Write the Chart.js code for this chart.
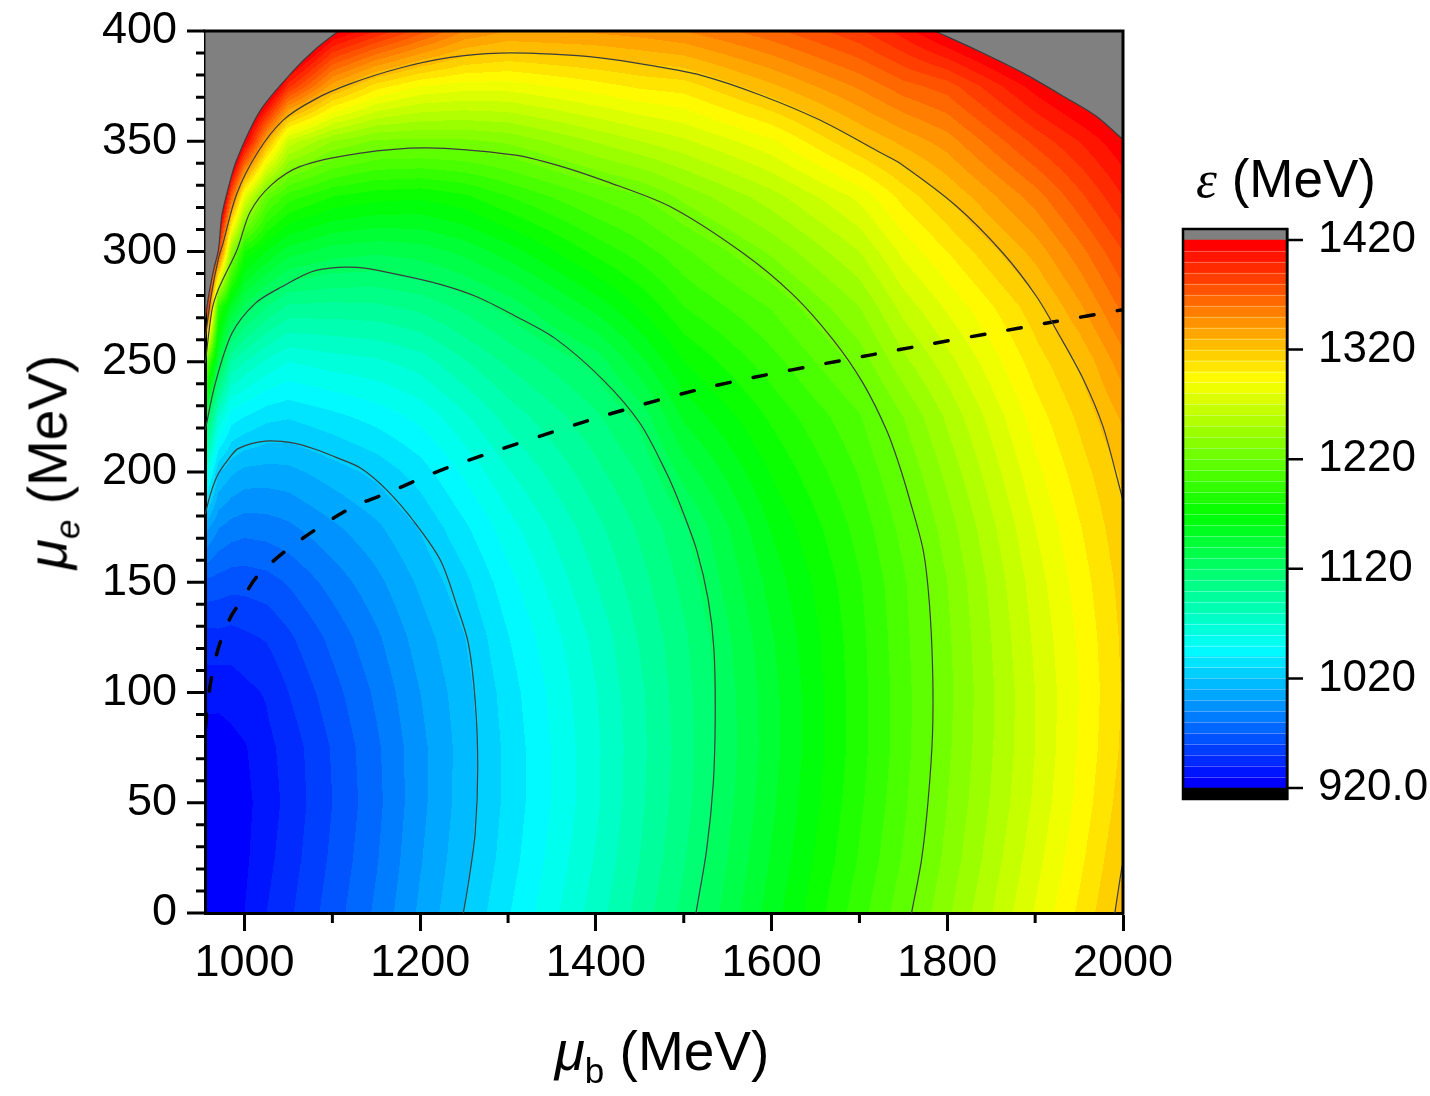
<!DOCTYPE html>
<html>
<head>
<meta charset="utf-8">
<script src="https://cdn.jsdelivr.net/npm/chart.js@4.4.1/dist/chart.umd.min.js"></script>
<style>
  html, body { margin: 0; padding: 0; background: #fff; }
  #wrap { position: relative; width: 1430px; height: 1096px; overflow: hidden;
          font-family: 'Liberation Sans', Arial, sans-serif; color: #000; }
  #main { position: absolute; left: 0; top: 0; }
  #bar { position: absolute; left: 1150px; top: 200px; }
  .title { position: absolute; white-space: nowrap; font-size: 55px; line-height: 1; }
  .title i { font-style: italic; }
  .title sub { font-size: 35px; vertical-align: -13px; line-height: 0; }
  #xTitle { left: 662px; top: 1024px; transform: translateX(-50%); }
  #yTitle { left: 48px; top: 462px; transform: translate(-50%, -50%) rotate(-90deg); }
  #cTitle { left: 1286px; top: 152px; font-size: 53px; transform: translateX(-50%); }
  #cTitle i { font-family: 'Liberation Serif', 'DejaVu Serif', serif; }
</style>
</head>
<body>
<div id="wrap">
  <canvas id="main" width="1430" height="1096"></canvas>
  <canvas id="bar" width="280" height="630"></canvas>
  <div class="title" id="xTitle"><i>μ</i><sub>b</sub> (MeV)</div>
  <div class="title" id="yTitle"><i>μ</i><sub><i>e</i></sub> (MeV)</div>
  <div class="title" id="cTitle"><i>ε</i> (MeV)</div>
</div>
<script>
// axes of the sampled field (MeV)
const muB = [955, 970, 985, 1000, 1025, 1050, 1100, 1150, 1200, 1250, 1300, 1400, 1450, 1500, 1600, 1700, 1750, 1800, 1900, 1950, 2000];
const muE = [0, 25, 50, 75, 100, 125, 150, 175, 200, 225, 250, 275, 300, 325, 350, 375, 400];

// energy density, one column per muB value, muE = 0 -> 400
// (values above 1420 belong to the grey "out of range" area)
const eps = [
  [923, 921, 921, 924, 934, 946, 968, 1005, 1070, 1140, 1230, 1450, 1500, 1500, 1500, 1500, 1500],
  [925, 923, 922, 925, 933, 947, 966, 991, 1021, 1070, 1140, 1195, 1390, 1500, 1500, 1500, 1500],
  [927, 925, 924, 927, 934, 946, 964, 986, 1012, 1045, 1090, 1150, 1240, 1370, 1500, 1500, 1500],
  [930, 928, 927, 929, 937, 948, 964, 984, 1007, 1040, 1080, 1128, 1180, 1282, 1425, 1500, 1500],
  [940, 937, 935, 937, 941, 951, 966, 985, 1006, 1033, 1068, 1110, 1160, 1217, 1333, 1460, 1500],
  [948, 945, 943, 944, 950, 958, 971, 988, 1007, 1031, 1060, 1098, 1145, 1195, 1267, 1394, 1490],
  [965, 962, 960, 961, 966, 973, 984, 998, 1015, 1037, 1065, 1097, 1135, 1180, 1240, 1335, 1425],
  [982, 979, 977, 978, 982, 988, 997, 1008, 1023, 1044, 1068, 1098, 1132, 1174, 1228, 1305, 1400],
  [1002, 999, 997, 997, 1000, 1005, 1012, 1021, 1035, 1053, 1075, 1103, 1135, 1172, 1227, 1290, 1375],
  [1020.5, 1017, 1015, 1014.5, 1016, 1019.5, 1027, 1038, 1052, 1068, 1089, 1113, 1143, 1178, 1228, 1285, 1350],
  [1039, 1035, 1033, 1033, 1035, 1039.5, 1046.5, 1056, 1069, 1084, 1102, 1124, 1155, 1190, 1232, 1285, 1340],
  [1075, 1071, 1068, 1068, 1069.5, 1073, 1080, 1087, 1097, 1108, 1124, 1154, 1183, 1211, 1251, 1296, 1342],
  [1094, 1090, 1088, 1087, 1088, 1091, 1096, 1102, 1111, 1123, 1147, 1171, 1195, 1219, 1260, 1302, 1345],
  [1113, 1109, 1106, 1105, 1106, 1108, 1113, 1118, 1134, 1152, 1170, 1190, 1208, 1233, 1268, 1305, 1350],
  [1155, 1151, 1148, 1146, 1146.5, 1149, 1154, 1161, 1171, 1182, 1196, 1211, 1232, 1256, 1288, 1328, 1367],
  [1196, 1191, 1188, 1186, 1186, 1187, 1189, 1194, 1201, 1209, 1224, 1240, 1260, 1283, 1320, 1352, 1388],
  [1216, 1211, 1208, 1206, 1206, 1207, 1208.5, 1213.5, 1221, 1230, 1247, 1264, 1283, 1304, 1333, 1366, 1405],
  [1238, 1233, 1230, 1228, 1227, 1228, 1230, 1235, 1243, 1252, 1266, 1282, 1300, 1321, 1345, 1375, 1425],
  [1281, 1276, 1272, 1270, 1270, 1272, 1275, 1280, 1287, 1295, 1305, 1316, 1334, 1355, 1383, 1415, 1460],
  [1302, 1297, 1293, 1291, 1290, 1291.5, 1294.5, 1299, 1305, 1312, 1321, 1338, 1356, 1377, 1400, 1432, 1470],
  [1324, 1319.5, 1315, 1312, 1311, 1312, 1314, 1317.5, 1322, 1332, 1346, 1363, 1380, 1400, 1419, 1445, 1480]
];

// contour lines [muB, muE]
const c1020 = [[955.3,181],[962,191],[970.4,199.4],[982,206],[993.2,210.7],[1023.5,214],[1057.7,213],[1080.4,210.3],
  [1105,206.5],[1132,201.8],[1162,191.8],[1192,178],[1223,160],[1242,139],[1254.8,122.3],[1262.5,96.6],
  [1265.5,66.3],[1262.5,36.1],[1254.8,13.5],[1249.1,0]];
const c1120 = [[955.3,219],[966.7,240.2],[985.7,262.9],[1012.2,276.5],[1042.5,284],[1080.4,291.3],[1127.9,292.8],
  [1175,289.5],[1222.6,285.1],[1264.4,279.5],[1306,271.2],[1353.5,260.6],[1408.4,241.7],[1450.2,222.1],
  [1480.5,199.4],[1496,185],[1514.7,164.6],[1527.9,141.9],[1534.4,119.3],[1535.8,89],[1533.6,58.8],
  [1526,28.6],[1513.9,0]];
const c1220 = [[955.3,249.3],[963,273.5],[970.4,283],[991.4,300.7],[1006.5,318],[1030,330],[1063,338.5],
  [1130,344.5],[1207.5,347],[1306,343.8],[1355.4,339.2],[1412.3,331.7],[1484.9,320.3],[1567.7,299.2],
  [1624.6,280.3],[1670.1,259.9],[1704.2,240.2],[1730.8,219],[1745.9,202.4],[1757.3,187.3],[1772.5,164.6],
  [1779.3,141.9],[1783.2,111.7],[1783.2,81.5],[1778.2,51.2],[1770.6,24],[1759.3,0]];
const c1320 = [[955.3,261],[962,280],[970.4,297],[975,303],[991,326],[1015,345],[1044,359.6],[1080,369],
  [1120,376],[1175,383],[1234,388],[1291,390],[1350,389.5],[1405,387.8],[1460,384.5],[1519,380],[1587,371],
  [1655,359.6],[1723,345],[1746,340],[1810.5,320.5],[1863.5,299.2],[1901.5,279.6],[1928,261.7],
  [1954.8,242.1],[1977,220.9],[1996,193.2],[2000,187]];
const c1320low = [[1990.7,0],[1998.2,19.5],[2000,23]];
// edge of the grey (> 1420 MeV) areas
const c1420left = [[955.3,270],[960,282],[965,292],[970.4,301],[974,316],[981,328],[991,341.5],[1018,364],
  [1055.7,382],[1080,391.5],[1107,400]];
const c1420right = [[1785.6,400],[1836.8,390.7],[1886.6,380.9],[1936,369.5],[1969.7,361.3],[1998,351.5],[2000,351]];

// dashed curve
const dashB = [955.5, 958, 962, 968, 976, 986, 997, 1014, 1048, 1086, 1124, 1166, 1206, 1245, 1405, 1534, 1712, 1920, 1998];
const dashE = [84, 95, 106, 117, 127, 135.5, 142, 152.5, 164.6, 175.2, 184.3, 191, 198, 204, 225, 239, 253, 268, 273.5];

// ticks
const xTicks = [1000, 1200, 1400, 1600, 1800, 2000];
const xMinor = [1100, 1300, 1500, 1700, 1900];
const yTicks = [0, 50, 100, 150, 200, 250, 300, 350, 400];
const yMinor = [];
for (let v = 10; v < 400; v += 10) if (v % 50) yMinor.push(v);
const cbTicks = [920, 1020, 1120, 1220, 1320, 1420];

// colour scale: 50 bands of 10 MeV from 920 to 1420
const epsMin = 920, epsMax = 1420, epsStep = 10;
const nBands = (epsMax - epsMin) / epsStep;

function rainbow(t) {
    const stops = [[0, 0, 255], [0, 255, 255], [0, 255, 0], [255, 255, 0], [255, 0, 0]];
    const s = Math.min(3.9999, Math.max(0, t * 4));
    const k = Math.floor(s), f = s - k;
    return stops[k].map((c, i) => Math.round(c + (stops[k + 1][i] - c) * f));
}
const palette = [];
for (let i = 0; i < nBands; i++) palette.push(rainbow(i / (nBands - 1)));
const grey = [128, 128, 128];
const greyCss = 'rgb(128,128,128)';

// grey itself comes from the filled 1420 contours, so the map clamps to the top band
function colorFor(v) {
    if (v < epsMin) return [0, 0, 0];
    return palette[Math.min(nBands - 1, Math.floor((v - epsMin) / epsStep))];
}

function locate(arr, v) {
    let i = 0;
    while (i < arr.length - 2 && v > arr[i + 1]) i++;
    const t = (v - arr[i]) / (arr[i + 1] - arr[i]);
    return [i, Math.max(0, Math.min(1, t))];
}

// Filled contour map drawn under the axes
const heatmapPlugin = {
    id: 'heatmap',
    beforeDraw(chart) {
        const { ctx, chartArea: a, scales: { x, y } } = chart;
        const w = Math.round(a.right - a.left), h = Math.round(a.bottom - a.top);
        const off = document.createElement('canvas');
        off.width = w; off.height = h;
        const octx = off.getContext('2d');
        const img = octx.createImageData(w, h);
        const cols = [], rows = [];
        for (let px = 0; px < w; px++) cols.push(locate(muB, x.getValueForPixel(a.left + px + 0.5)));
        for (let py = 0; py < h; py++) rows.push(locate(muE, y.getValueForPixel(a.top + py + 0.5)));
        let k = 0;
        for (let py = 0; py < h; py++) {
            const [j, ty] = rows[py];
            for (let px = 0; px < w; px++) {
                const [i, tx] = cols[px];
                const v = (eps[i][j] * (1 - tx) + eps[i + 1][j] * tx) * (1 - ty) +
                          (eps[i][j + 1] * (1 - tx) + eps[i + 1][j + 1] * tx) * ty;
                const c = colorFor(v);
                img.data[k++] = c[0]; img.data[k++] = c[1]; img.data[k++] = c[2]; img.data[k++] = 255;
            }
        }
        octx.putImageData(img, 0, 0);
        ctx.drawImage(off, a.left, a.top);
    }
};

// Top/right frame, y major ticks and the short minor ticks
const framePlugin = {
    id: 'frame',
    afterDraw(chart) {
        const { ctx, chartArea: a, scales: { x, y } } = chart;
        ctx.save();
        ctx.strokeStyle = '#000';
        ctx.lineWidth = 3;
        ctx.beginPath();
        ctx.moveTo(a.left - 1.5, a.top);
        ctx.lineTo(a.right, a.top);
        ctx.lineTo(a.right, a.bottom + 1.5);
        ctx.stroke();
        ctx.beginPath();
        yTicks.forEach(v => {
            const p = y.getPixelForValue(v);
            ctx.moveTo(a.left, p);
            ctx.lineTo(a.left - 18, p);
        });
        xMinor.forEach(v => {
            const p = x.getPixelForValue(v);
            ctx.moveTo(p, a.bottom);
            ctx.lineTo(p, a.bottom + 10);
        });
        yMinor.forEach(v => {
            const p = y.getPixelForValue(v);
            ctx.moveTo(a.left, p);
            ctx.lineTo(a.left - 9, p);
        });
        ctx.stroke();
        ctx.restore();
    }
};

Chart.defaults.font.family = "'Liberation Sans', Arial, sans-serif";
Chart.defaults.color = '#000';

const toPts = arr => arr.map(p => ({ x: p[0], y: p[1] }));
const contourStyle = { showLine: true, borderColor: '#3c3c3c', borderWidth: 1.2, pointRadius: 0, tension: 0.3, fill: false };

new Chart(document.getElementById('main'), {
    type: 'scatter',
    data: {
        datasets: [
            { ...contourStyle, data: toPts(c1420left), fill: 'end', backgroundColor: greyCss },
            { ...contourStyle, data: toPts(c1420right), fill: 'end', backgroundColor: greyCss },
            { ...contourStyle, data: toPts(c1020) },
            { ...contourStyle, data: toPts(c1120) },
            { ...contourStyle, data: toPts(c1220) },
            { ...contourStyle, data: toPts(c1320) },
            { ...contourStyle, data: toPts(c1320low) },
            {
                showLine: true, data: dashB.map((b, i) => ({ x: b, y: dashE[i] })),
                borderColor: '#000', borderWidth: 3.5, borderDash: [13.5, 23.5], borderCapStyle: 'round',
                pointRadius: 0, tension: 0.3, fill: false
            }
        ]
    },
    options: {
        responsive: false,
        animation: false,
        layout: { padding: { left: 0, top: 31, right: 307, bottom: 0 } },
        plugins: { legend: { display: false }, tooltip: { enabled: false } },
        scales: {
            x: {
                type: 'linear', min: 955, max: 2000,
                afterBuildTicks: s => { s.ticks = xTicks.map(v => ({ value: v })); },
                afterFit: s => { s.height = 183; },
                grid: { drawOnChartArea: false, drawTicks: true, tickLength: 18, tickWidth: 3, tickColor: '#000' },
                border: { display: true, color: '#000', width: 3 },
                ticks: { font: { size: 45 }, padding: 6, maxRotation: 0, autoSkip: false, callback: v => String(v) }
            },
            y: {
                type: 'linear', min: 0, max: 400,
                afterBuildTicks: s => { s.ticks = yTicks.map(v => ({ value: v })); },
                afterFit: s => { s.width = 205; },
                // ticks drawn by framePlugin; the long transparent tick only spaces the labels
                grid: { drawOnChartArea: false, drawTicks: true, tickLength: 28, tickWidth: 0, tickColor: 'rgba(0,0,0,0)' },
                border: { display: true, color: '#000', width: 3 },
                ticks: { font: { size: 45 }, padding: 0, autoSkip: false, callback: v => String(v) }
            }
        }
    },
    plugins: [heatmapPlugin, framePlugin]
});

// Colour bar: one floating bar per band, plus the black/grey caps
const barBands = [{ lo: epsMin - epsStep, hi: epsMin, c: [0, 0, 0] }];
for (let i = 0; i < nBands; i++) barBands.push({ lo: epsMin + i * epsStep, hi: epsMin + (i + 1) * epsStep, c: palette[i] });
barBands.push({ lo: epsMax, hi: epsMax + epsStep, c: grey });

const boxPlugin = {
    id: 'box',
    afterDatasetsDraw(chart) {
        const { ctx, chartArea: a, scales: { y } } = chart;
        ctx.save();
        ctx.strokeStyle = 'rgba(255,255,255,0.3)';
        ctx.lineWidth = 1;
        ctx.beginPath();
        for (let i = 1; i < nBands; i++) {
            const p = Math.round(y.getPixelForValue(epsMin + i * epsStep)) + 0.5;
            ctx.moveTo(a.left, p);
            ctx.lineTo(a.right, p);
        }
        ctx.stroke();
        ctx.strokeStyle = '#000';
        ctx.lineWidth = 2.5;
        ctx.strokeRect(a.left, a.top, a.right - a.left, a.bottom - a.top);
        ctx.beginPath();
        cbTicks.forEach(v => {
            const p = y.getPixelForValue(v);
            ctx.moveTo(a.right, p);
            ctx.lineTo(a.right + 16, p);
        });
        ctx.stroke();
        ctx.restore();
    }
};

new Chart(document.getElementById('bar'), {
    type: 'bar',
    data: {
        labels: [''],
        datasets: barBands.map(b => ({
            data: [[b.lo, b.hi]],
            backgroundColor: `rgb(${b.c[0]},${b.c[1]},${b.c[2]})`,
            borderWidth: 0, barPercentage: 1, categoryPercentage: 1, grouped: false
        }))
    },
    options: {
        responsive: false,
        animation: false,
        layout: { padding: { left: 33, top: 29, bottom: 31, right: 0 } },
        plugins: { legend: { display: false }, tooltip: { enabled: false } },
        scales: {
            x: { display: false },
            y: {
                position: 'right', min: epsMin - epsStep, max: epsMax + epsStep,
                afterBuildTicks: s => { s.ticks = cbTicks.map(v => ({ value: v })); },
                afterFit: s => { s.width = 143; },
                grid: { drawOnChartArea: false, drawTicks: true, tickLength: 31, tickWidth: 0, tickColor: 'rgba(0,0,0,0)' },
                border: { display: true, color: '#000', width: 2.5 },
                ticks: { font: { size: 44 }, padding: 0, autoSkip: false, callback: v => v === 920 ? '920.0' : String(v) }
            }
        }
    },
    plugins: [boxPlugin]
});
</script>
</body>
</html>
